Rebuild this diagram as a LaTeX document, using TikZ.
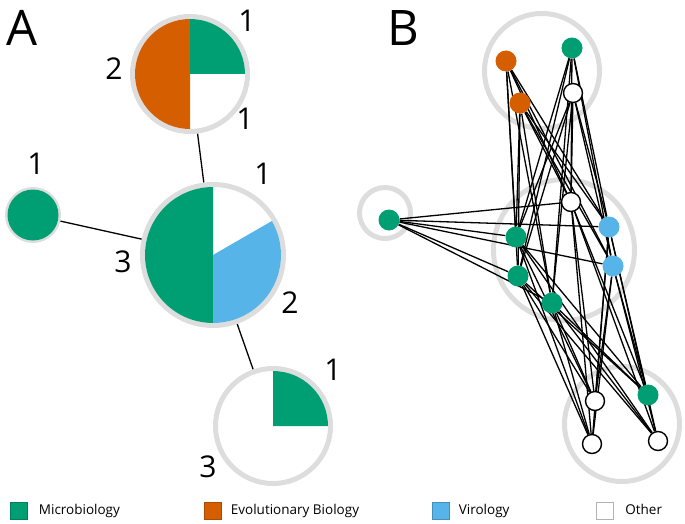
\documentclass[tikz,border=0pt]{standalone}
\usepackage{fontspec}
\setsansfont{Open Sans}
\usetikzlibrary{positioning}
\pgfdeclarelayer{bg}
\pgfsetlayers{bg,main}
\definecolor{micro}{HTML}{009E73}
\definecolor{evo}{HTML}{D55E00}
\definecolor{viro}{HTML}{56B4E9}
\definecolor{ringgray}{HTML}{DDDDDD}

\begin{document}
\begin{tikzpicture}[
	x = 1pt, y = -1pt,
	node distance = 9pt,
	every node/.style = {
		font = \sffamily
	},
	pie/.style = {
		circle,
		draw = ringgray,
		line width = 5pt,
		inner sep = 0pt
	},
	count/.style = {
		inner sep = 0pt,
		font = \sffamily\fontsize{30}{36}\selectfont
	},
	panel/.style = {
		inner sep = 0pt,
		font = \sffamily\fontsize{49}{56}\selectfont
	},
	author/.style = {
		circle,
		inner sep = 0pt,
		minimum size = 21pt,
		fill = #1
	},
	other/.style = {
		circle,
		inner sep = 0pt,
		minimum size = 19pt,
		draw = black,
		fill = white,
		line width = 1.4pt
	},
	link/.style = {
		line width = 1.3pt
	},
	key/.style = {
		inner sep = 0pt,
		minimum size = 17pt,
		fill = #1,
		draw = #1!80!black
	},
	keytext/.style = {
		inner sep = 0pt,
		text height = 0.714em,
		text depth = 0pt,
		font = \sffamily\fontsize{13.5}{16}\selectfont
	}
	]
	\useasboundingbox (0,0) rectangle (685,524);
	
	% panel A
	\node (labelA) [panel] at (22,28) {A};
	
	\node (pieTop) [pie, minimum size = 115pt] at (190,74) {};
	\fill[evo] (pieTop.center) -- +(90:55pt) arc[start angle = 90, end angle = 270, radius = 55pt] -- cycle;
	\fill[micro] (pieTop.center) -- +(0:55pt) arc[start angle = 0, end angle = 90, radius = 55pt] -- cycle;
	
	\node (pieLeft) [pie, minimum size = 51pt] at (33,215) {};
	\fill[micro] (pieLeft.center) circle[radius = 25.5pt];
	
	\node (pieMid) [pie, minimum size = 141pt] at (213,255) {};
	\fill[micro] (pieMid.center) -- +(90:68pt) arc[start angle = 90, end angle = 270, radius = 68pt] -- cycle;
	\fill[viro] (pieMid.center) -- +(-90:68pt) arc[start angle = -90, end angle = 30, radius = 68pt] -- cycle;
	
	\node (pieBot) [pie, minimum size = 115pt] at (273,426) {};
	\fill[micro] (pieBot.center) -- +(0:55pt) arc[start angle = 0, end angle = 90, radius = 55pt] -- cycle;
	
	\begin{pgfonlayer}{bg}
		\draw[link] (pieTop) -- (pieMid);
		\draw[link] (pieLeft) -- (pieMid);
		\draw[link] (pieMid) -- (pieBot);
	\end{pgfonlayer}
	
	\node (cntTopMicro) [count] at (247,21) {1};
	\node (cntTopEvo) [count] at (114,69) {2};
	\node (cntTopOther) [count] at (245,119) {1};
	\node (cntLeftMicro) [count] at (36,164) {1};
	\node (cntMidOther) [count] at (263,174) {1};
	\node (cntMidMicro) [count] at (123,262) {3};
	\node (cntMidViro) [count] at (290,303) {2};
	\node (cntBotMicro) [count] at (333,370) {1};
	\node (cntBotOther) [count] at (208,467) {3};
	
	% panel B
	\node (labelB) [panel] at (403,28) {B};
	
	\begin{pgfonlayer}{bg}
		\node (grpTop) [pie, minimum size = 115pt] at (542,71) {};
		\node (grpLeft) [pie, minimum size = 51pt] at (385,213) {};
		\node (grpMid) [pie, minimum size = 141pt] at (564,250) {};
		\node (grpBot) [pie, minimum size = 115pt] at (622,424) {};
	\end{pgfonlayer}
	
	\node (t1) [author=evo] at (506,61) {};
	\node (t2) [author=micro] at (572,48) {};
	\node (t3) [other] at (573,93) {};
	\node (t4) [author=evo] at (520,103) {};
	
	\node (l1) [author=micro] at (389,220) {};
	
	\node (m1) [other] at (571,202) {};
	\node (m2) [author=viro] at (609,227) {};
	\node (m3) [author=micro] at (516,237) {};
	\node (m4) [author=viro] at (613,266) {};
	\node (m5) [author=micro] at (518,276) {};
	\node (m6) [author=micro] at (552,303) {};
	
	\node (b1) [other] at (595,401) {};
	\node (b2) [author=micro] at (648,395) {};
	\node (b3) [other] at (592,444) {};
	\node (b4) [other] at (658,441) {};
	
	\begin{pgfonlayer}{bg}
		\foreach \u in {t1,t2,t3,t4,l1,b1,b2,b3,b4}
			\foreach \i in {1,...,6}
				\draw[link] (\u) -- (m\i);
	\end{pgfonlayer}
	
	% legend
	\node (keyMicro) [key=micro] at (19,511) {};
	\node (txtMicro) [keytext, right = 11pt of keyMicro] {Microbiology};
	\node (keyEvo) [key=evo] at (213,511) {};
	\node (txtEvo) [keytext, right = of keyEvo] {Evolutionary Biology};
	\node (keyViro) [key=viro] at (441,511) {};
	\node (txtViro) [keytext, right = of keyViro] {Virology};
	\node (keyOther) [key=white, draw=black!30] at (604.5,511) {};
	\node (txtOther) [keytext, right = 12pt of keyOther] {Other};
	
\end{tikzpicture}
\end{document}
